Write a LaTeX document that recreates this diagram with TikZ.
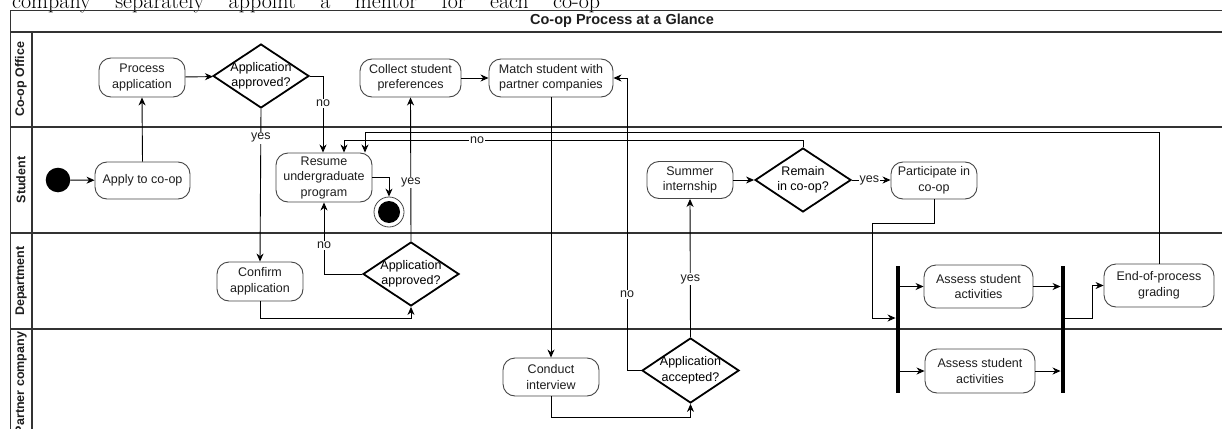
\documentclass[tikz,border=0pt]{standalone}
\usepackage{fontspec}
\setsansfont{Liberation Sans}
\usepackage{tikz}
\usetikzlibrary{shapes.geometric,arrows.meta,positioning}
\definecolor{lanegray}{RGB}{51,51,51}
\definecolor{boxgray}{RGB}{70,70,70}
\definecolor{textgray}{RGB}{30,30,30}
\begin{document}
\begin{tikzpicture}[x=1pt, y=-1pt,
  font=\sffamily\fontsize{12.5}{15.5}\selectfont,
  act/.style={rectangle, rounded corners=12pt, draw=boxgray, line width=0.9pt,
    fill=white, text=textgray, align=center, inner sep=2pt},
  decision/.style={diamond, draw=black, line width=1.8pt, fill=white,
    minimum width=96pt, minimum height=64pt, inner sep=0pt},
  lane/.style={draw=lanegray, line width=1.1pt},
  lanename/.style={rotate=90, text=textgray,
    font=\sffamily\bfseries\fontsize{12.5}{15}\selectfont},
  bar/.style={rectangle, fill=black, minimum width=4.5pt, minimum height=127pt, inner sep=0pt},
  arr/.style={-{Stealth[length=8pt,width=7pt,inset=2.5pt]}, line width=0.9pt},
  cond/.style={fill=white, inner sep=1pt, text=textgray}
]
\useasboundingbox (0,0) rectangle (1222,428);
\clip (0,0) rectangle (1222,428);
\node[anchor=base west, inner sep=0pt, font=\rmfamily\fontsize{22}{26}\selectfont] (intro) at (12,9)
  {\makebox[588pt][s]{company separately appoint a mentor for each co-op}};
\draw[lane] (10.7,10.5) -- (1240,10.5);
\draw[lane] (10.7,10.5) -- (10.7,440);
\draw[lane] (10.7,32) -- (1240,32);
\draw[lane] (32,32) -- (32,440);
\foreach \y in {127,233,329}
  \draw[lane] (10.7,\y) -- (1240,\y);
\node[text=textgray, font=\sffamily\bfseries\fontsize{14.5}{17}\selectfont] (title) at (622,21) {Co-op Process at a Glance};
\node[lanename] (laneoffice) at (21,79.5) {Co-op Office};
\node[lanename] (lanestudent) at (21,180) {Student};
\node[lanename] (lanedept) at (21,281) {Department};
\node[lanename] (lanepartner) at (21,383) {Partner company};
\node[circle, fill=black, minimum size=24.6pt, inner sep=0pt] (start) at (58,180) {};
\node[act, minimum width=95pt, minimum height=37pt] (apply) at (142.5,180.5) {Apply to co-op};
\node[act, minimum width=86pt, minimum height=39pt] (proc) at (142,77.5) {Process\\application};
\node[decision, label={[align=center]center:Application\\approved?}] (dec1) at (261,76) {};
\node[act, minimum width=86pt, minimum height=39pt] (confirm) at (260,281.5) {Confirm\\application};
\node[act, minimum width=96pt, minimum height=49pt] (resume) at (324,177.5) {Resume\\undergraduate\\program};
\node[circle, draw=boxgray, line width=0.8pt, minimum size=30pt, inner sep=0pt,
  path picture={\fill[black] (path picture bounding box.center) circle (11pt);}] (endc) at (389,212) {};
\node[decision, label={[align=center]center:Application\\approved?}] (dec2) at (411,274) {};
\node[act, minimum width=101pt, minimum height=38pt] (collect) at (410.5,78) {Collect student\\preferences};
\node[act, minimum width=124pt, minimum height=38pt] (match) at (551,78) {Match student with\\partner companies};
\node[act, minimum width=96pt, minimum height=38pt] (interview) at (551,377) {Conduct\\interview};
\node[decision, minimum width=97pt, minimum height=65pt,
  label={[align=center]center:Application\\accepted?}] (dec3) at (690.5,370.5) {};
\node[act, minimum width=86pt, minimum height=37pt] (summer) at (690,180) {Summer\\internship};
\node[decision, label={[align=center]center:Remain\\in co-op?}] (rem) at (803,180) {};
\node[act, minimum width=86pt, minimum height=37pt] (part) at (934,180.5) {Participate in\\co-op};
\node[bar] (fork) at (898,329.5) {};
\node[act, minimum width=109pt, minimum height=43pt] (a1) at (978.5,286.5) {Assess student\\activities};
\node[act, minimum width=110pt, minimum height=44pt] (a2) at (980,371) {Assess student\\activities};
\node[bar] (join) at (1063,329.5) {};
\node[act, minimum width=110pt, minimum height=43pt] (endg) at (1159,285.5) {End-of-process\\grading};
\draw[arr] (start) -- (apply);
\draw[arr] (apply.north) -- (proc.south);
\draw[arr] (proc) -- (dec1);
\draw[arr] (dec1.east) -| node[cond,pos=0.68]{no} ([xshift=-1pt]resume.north);
\draw[arr] (dec1.south) -- node[cond,pos=0.19]{yes} (confirm.north);
\draw[arr] (confirm.south) -- ++(0,17) -| (dec2.south);
\draw[arr] (dec2.north) -- node[cond,pos=0.41]{yes} (collect.south);
\draw[arr] (dec2.west) -| node[cond,pos=0.7]{no} (resume.south);
\draw[arr] (resume.east) -| (endc.north);
\draw[arr] (collect) -- (match);
\draw[arr] (match.south) -- (interview.north);
\draw[arr] (interview.south) -- ++(0,21) -| (dec3.south);
\draw[arr] (dec3.west) -- ++(-14,0) |- node[cond,pos=0.13]{no} (match.east);
\draw[arr] (dec3.north) -- node[cond,pos=0.42]{yes} (summer.south);
\draw[arr] (summer) -- (rem);
\draw[arr] (rem.east) -- node[cond,pos=0.45]{yes} (part.west |- rem.east);
\draw[arr] (rem.north) -- ++(0,-7) -| node[cond,pos=0.355]{no} ([xshift=20pt]resume.north);
\draw[arr] (endg.north) -- ++(0,-131) -| ([xshift=41pt]resume.north);
\draw[arr] (part.south) -- ++(0,24) -- ++(-62,0) |- ([yshift=11.5pt]fork.west);
\draw[arr] (fork.east |- a1.west) -- (a1.west);
\draw[arr] (fork.east |- a2.west) -- (a2.west);
\draw[arr] (a1.east) -- (join.west |- a1.east);
\draw[arr] (a2.east) -- (join.west |- a2.east);
\draw[arr] ([yshift=11.5pt]join.east) -- ++(27,0) |- (endg.west);
\end{tikzpicture}
\end{document}
